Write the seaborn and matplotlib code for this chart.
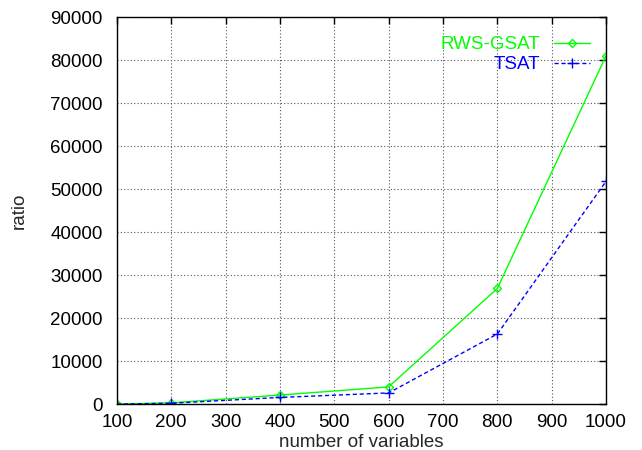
import matplotlib
matplotlib.use("Agg")
import matplotlib.pyplot as plt
import seaborn as sns
import pandas as pd

variables = [100, 200, 400, 600, 800, 1000]
rws_gsat = [0, 300, 2100, 4000, 26900, 81000]
tsat = [0, 200, 1550, 2600, 16300, 51800]
x_ticks = [100, 200, 300, 400, 500, 600, 700, 800, 900, 1000]
y_ticks = [0, 10000, 20000, 30000, 40000, 50000, 60000, 70000, 80000, 90000]

sns.set_style("white")
plt.rcParams['font.family'] = ['Liberation Sans', 'DejaVu Sans']

df = pd.DataFrame({"n": variables * 2,
                   "ratio": rws_gsat + tsat,
                   "alg": ["RWS-GSAT"] * len(variables) + ["TSAT"] * len(variables)})

fig = plt.figure(figsize=(6.42, 4.5), dpi=100)
ax = fig.add_axes([0.182, 0.102, 0.762, 0.860])

sns.lineplot(data=df[df.alg == "RWS-GSAT"], x="n", y="ratio", ax=ax, color="#00ff00",
             linewidth=1.0, marker="D", markersize=4, markerfacecolor="none",
             markeredgecolor="#00ff00", markeredgewidth=1.0, label="RWS-GSAT")
sns.lineplot(data=df[df.alg == "TSAT"], x="n", y="ratio", ax=ax, color="#0000ff",
             linewidth=1.0, linestyle=(0, (3, 2)), marker="+", markersize=7,
             markeredgecolor="#0000ff", markeredgewidth=1.0, label="TSAT")

FS = 13.5
ax.set_xlim(100, 1000)
ax.set_ylim(0, 90000)
ax.set_xticks(x_ticks)
ax.set_yticks(y_ticks)
ax.set_xticklabels([str(v) for v in x_ticks])
ax.set_yticklabels([str(v) for v in y_ticks])
ax.grid(True, color="#555555", linestyle=(0, (1, 2)), linewidth=0.8)
ax.tick_params(direction="in", top=True, right=True, length=5, width=1, labelsize=FS,
               colors="black")
ax.tick_params(axis="y", pad=10)
ax.tick_params(axis="x", pad=7)
for s in ax.spines.values():
    s.set_color("black")
    s.set_linewidth(1.0)
ax.set_xlabel("number of variables", fontsize=FS, labelpad=2)
ax.set_ylabel("ratio", fontsize=FS, labelpad=16)

leg = ax.legend(loc="upper right", bbox_to_anchor=(590 / 642, (450 - 36) / 450),
                bbox_transform=fig.transFigure, frameon=False, borderpad=0,
                borderaxespad=0, markerfirst=False, fontsize=FS, handlelength=1.9,
                labelspacing=0.15, handletextpad=0.75)
for t, c in zip(leg.get_texts(), ["#00ff00", "#0000ff"]):
    t.set_color(c)

fig.savefig("out.png", dpi=100)
